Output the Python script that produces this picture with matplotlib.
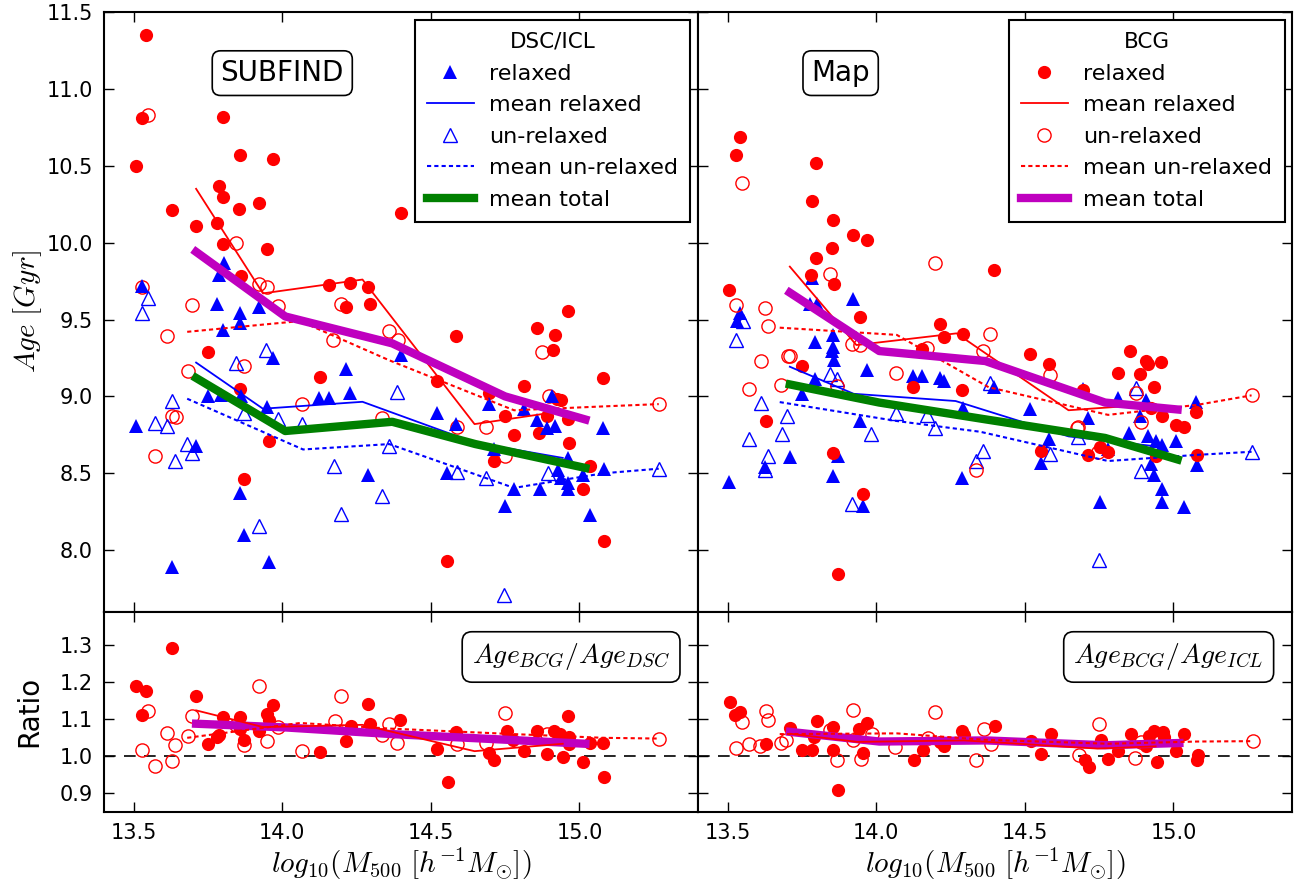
import numpy as np
import matplotlib
matplotlib.use("Agg")
import matplotlib.pyplot as plt

plt.rcParams["mathtext.fontset"] = "cm"
plt.rcParams["font.family"] = "DejaVu Sans"

# ---------------- top left: SUBFIND (BCG + DSC ages) ----------------
sub_bcg_rel = [(13.543, 11.35), (13.529, 10.81), (13.507, 10.50), (13.80, 10.82), (13.857, 10.57),
               (13.969, 10.545), (13.786, 10.37), (13.80, 10.30), (13.854, 10.22), (13.92, 10.255),
               (13.63, 10.21), (13.709, 10.11), (13.78, 10.13), (13.80, 9.99), (13.95, 9.96),
               (13.86, 9.78), (13.75, 9.29), (13.859, 9.05), (13.955, 8.71), (13.87, 8.46),
               (14.40, 10.19), (14.157, 9.725), (14.229, 9.74), (14.288, 9.71), (14.215, 9.58),
               (14.294, 9.60), (14.585, 9.39), (14.126, 9.125), (14.52, 9.10), (14.697, 9.02),
               (14.75, 8.87), (14.714, 8.58), (14.555, 7.93), (14.963, 9.555), (14.857, 9.445),
               (14.918, 9.40), (14.91, 9.305), (15.079, 9.12), (14.815, 9.065), (14.925, 8.98),
               (14.938, 8.975), (14.89, 8.87), (14.963, 8.855), (14.78, 8.75), (14.863, 8.765),
               (14.964, 8.695), (15.036, 8.55), (15.011, 8.40), (15.084, 8.06)]
sub_bcg_unrel = [(13.548, 10.83), (13.843, 9.995), (13.92, 9.73), (13.95, 9.71), (13.985, 9.59),
                 (13.529, 9.71), (13.697, 9.595), (13.613, 9.39), (13.87, 9.20), (13.683, 9.165),
                 (13.63, 8.87), (13.641, 8.865), (13.57, 8.61), (14.199, 9.60), (14.17, 9.37),
                 (14.36, 9.425), (14.39, 9.37), (14.067, 8.95), (14.587, 8.80), (14.684, 8.80),
                 (14.337, 8.86), (14.875, 9.29), (14.897, 9.00), (15.267, 8.95), (14.748, 8.61)]
sub_dsc_rel = [(13.529, 9.72), (13.803, 9.87), (13.787, 9.79), (13.78, 9.60), (13.857, 9.545),
               (13.92, 9.58), (13.857, 9.48), (13.80, 9.43), (13.969, 9.25), (13.75, 9.00),
               (13.795, 9.01), (13.862, 9.00), (13.95, 8.93), (13.507, 8.81), (13.71, 8.68),
               (13.857, 8.37), (13.87, 8.10), (13.63, 7.89), (13.955, 7.92), (14.40, 9.27),
               (14.215, 9.18), (14.123, 8.99), (14.157, 8.99), (14.229, 9.02), (14.52, 8.89),
               (14.583, 8.82), (14.288, 8.49), (14.555, 8.50), (14.75, 8.29), (14.697, 8.95),
               (14.908, 9.00), (14.815, 8.915), (14.857, 8.845), (14.89, 8.795), (14.918, 8.81),
               (15.079, 8.795), (14.963, 8.60), (15.084, 8.53), (14.928, 8.52), (14.937, 8.47),
               (14.963, 8.44), (14.963, 8.40), (15.011, 8.49), (14.78, 8.395), (14.866, 8.395),
               (15.036, 8.23), (14.714, 8.66)]
sub_dsc_unrel = [(13.548, 9.64), (13.529, 9.545), (13.946, 9.30), (13.843, 9.22), (13.63, 8.97),
                 (13.87, 8.89), (13.985, 8.85), (13.57, 8.83), (13.613, 8.81), (13.68, 8.69),
                 (13.697, 8.63), (13.638, 8.58), (13.92, 8.16), (14.386, 9.03), (14.067, 8.82),
                 (14.36, 8.68), (14.173, 8.55), (14.589, 8.51), (14.684, 8.47), (14.336, 8.35),
                 (14.196, 8.235), (14.745, 7.71), (14.894, 8.50), (15.267, 8.53)]

sub_bcg_rel_mean = [(13.71, 10.35), (13.935, 9.67), (14.27, 9.76), (14.647, 8.82), (14.944, 8.905)]
sub_bcg_unrel_mean = [(13.68, 9.42), (14.06, 9.49), (14.36, 9.235), (14.78, 8.91), (15.08, 8.935), (15.267, 8.95)]
sub_dsc_rel_mean = [(13.71, 9.22), (13.935, 8.92), (14.27, 8.965), (14.647, 8.70), (14.944, 8.60)]
sub_dsc_unrel_mean = [(13.68, 8.985), (14.07, 8.655), (14.36, 8.69), (14.78, 8.405), (15.08, 8.50), (15.267, 8.53)]
sub_dsc_tot_mean = [(13.71, 9.12), (14.01, 8.775), (14.37, 8.835), (14.65, 8.69), (15.02, 8.535)]
sub_bcg_tot_mean = [(13.71, 9.94), (14.01, 9.52), (14.37, 9.345), (14.75, 9.0), (15.02, 8.85)]

# ---------------- bottom left: ratio BCG / DSC ----------------
sub_ratio_rel = [(13.63, 1.291), (13.507, 1.189), (13.543, 1.176), (13.529, 1.111), (13.709, 1.163),
                 (13.751, 1.032), (13.78, 1.052), (13.787, 1.057), (13.80, 1.106), (13.857, 1.106),
                 (13.857, 1.075), (13.87, 1.045), (13.92, 1.068), (13.95, 1.113), (13.955, 1.097),
                 (13.969, 1.138), (14.126, 1.013), (14.215, 1.041), (14.232, 1.081), (14.288, 1.142),
                 (14.296, 1.088), (14.395, 1.097), (14.521, 1.019), (14.585, 1.066), (14.557, 0.932),
                 (14.697, 1.009), (14.714, 0.989), (14.756, 1.068), (14.778, 1.043), (14.815, 1.014),
                 (14.857, 1.068), (14.89, 1.007), (14.916, 1.068), (14.935, 1.061), (14.944, 0.998),
                 (14.963, 1.109), (14.966, 1.052), (14.964, 1.032), (15.011, 0.986), (15.036, 1.037),
                 (15.081, 1.036), (15.084, 0.944)]
sub_ratio_unrel = [(13.548, 1.122), (13.529, 1.016), (13.573, 0.974), (13.613, 1.063), (13.638, 1.03),
                   (13.63, 0.987), (13.697, 1.108), (13.683, 1.054), (13.845, 1.084), (13.87, 1.03),
                   (13.92, 1.189), (13.948, 1.041), (13.985, 1.079), (14.067, 1.014), (14.176, 1.095),
                   (14.199, 1.163), (14.336, 1.057), (14.36, 1.086), (14.387, 1.036), (14.589, 1.032),
                   (14.684, 1.036), (14.75, 1.117), (14.89, 1.061), (15.267, 1.048)]
sub_ratio_rel_mean = [(13.71, 1.124), (13.935, 1.079), (14.27, 1.085), (14.647, 1.014), (14.944, 1.034)]
sub_ratio_unrel_mean = [(13.68, 1.05), (14.06, 1.09), (14.36, 1.075), (14.78, 1.06), (15.08, 1.05), (15.267, 1.048)]
sub_ratio_tot_mean = [(13.71, 1.088), (14.01, 1.078), (14.37, 1.06), (14.75, 1.045), (15.02, 1.034)]

# ---------------- top right: Map (BCG + ICL ages) ----------------
map_bcg_rel = [(13.541, 10.685), (13.529, 10.572), (13.798, 10.52), (13.784, 10.272), (13.853, 10.149),
               (13.92, 10.05), (13.969, 10.02), (13.852, 9.964), (13.796, 9.90), (13.78, 9.788),
               (13.859, 9.73), (13.505, 9.69), (13.946, 9.517), (13.75, 9.197), (13.628, 8.84),
               (13.854, 8.633), (13.954, 8.366), (13.87, 7.844), (14.397, 9.82), (14.214, 9.469),
               (14.228, 9.388), (14.292, 9.408), (14.154, 9.306), (14.518, 9.274), (14.582, 9.208),
               (14.124, 9.063), (14.287, 9.041), (14.554, 8.648), (14.854, 9.295), (14.907, 9.23),
               (14.916, 9.213), (14.959, 9.223), (14.813, 9.154), (14.888, 9.147), (14.935, 9.06),
               (14.697, 9.039), (15.076, 8.898), (14.925, 8.922), (14.963, 8.872), (15.008, 8.813),
               (15.034, 8.80), (14.754, 8.672), (14.779, 8.639), (14.712, 8.616), (14.942, 8.611),
               (15.081, 8.618)]
map_bcg_unrel = [(13.549, 10.39), (13.843, 9.795), (13.529, 9.595), (13.627, 9.573), (13.635, 9.458),
                 (13.918, 9.339), (13.946, 9.334), (13.612, 9.23), (13.702, 9.262), (13.711, 9.262),
                 (13.868, 9.067), (13.571, 9.046), (13.68, 9.074), (14.197, 9.867), (14.384, 9.408),
                 (14.171, 9.313), (14.359, 9.295), (14.586, 9.139), (14.065, 9.154), (14.334, 8.524),
                 (14.675, 8.795), (14.873, 9.023), (14.891, 8.833), (14.68, 8.80), (14.746, 8.639),
                 (15.263, 9.007)]
map_icl_rel = [(13.784, 9.773), (13.778, 9.60), (13.80, 9.60), (13.92, 9.632), (13.543, 9.545),
               (13.53, 9.49), (13.795, 9.356), (13.854, 9.40), (13.853, 9.32), (13.795, 9.11),
               (13.851, 9.295), (13.857, 9.24), (13.969, 9.17), (13.75, 9.013), (13.946, 8.84),
               (13.709, 8.605), (13.87, 8.611), (13.627, 8.54), (13.854, 8.48), (13.505, 8.444),
               (13.954, 8.29), (14.123, 9.132), (14.154, 9.132), (14.213, 9.12), (14.228, 9.10),
               (14.397, 9.063), (14.518, 8.915), (14.292, 8.926), (14.582, 8.72), (14.554, 8.567),
               (14.287, 8.47), (14.697, 9.05), (14.813, 8.99), (14.907, 8.974), (15.076, 8.965),
               (14.888, 8.872), (14.712, 8.86), (14.852, 8.763), (14.913, 8.741), (14.94, 8.713),
               (14.96, 8.683), (15.008, 8.709), (14.779, 8.66), (15.081, 8.552), (14.925, 8.561),
               (14.936, 8.49), (14.96, 8.40), (14.963, 8.311), (15.034, 8.281), (14.754, 8.311)]
map_icl_unrel = [(13.552, 9.49), (13.529, 9.37), (13.843, 9.147), (13.868, 9.11), (13.612, 8.958),
                 (13.698, 8.87), (13.982, 8.755), (13.683, 8.755), (13.571, 8.726), (13.636, 8.611),
                 (13.627, 8.52), (13.918, 8.30), (14.384, 9.089), (14.065, 8.893), (14.171, 8.878),
                 (14.197, 8.795), (14.586, 8.626), (14.359, 8.648), (14.334, 8.578), (14.873, 9.056),
                 (14.68, 8.735), (14.891, 8.518), (14.748, 7.938), (15.263, 8.639)]

map_bcg_rel_mean = [(13.709, 9.844), (13.933, 9.334), (14.27, 9.41), (14.647, 8.91), (14.94, 8.95)]
map_bcg_unrel_mean = [(13.675, 9.447), (14.069, 9.40), (14.378, 9.06), (14.78, 8.88), (15.08, 8.945), (15.263, 9.007)]
map_icl_rel_mean = [(13.709, 9.193), (13.924, 9.017), (14.267, 8.97), (14.647, 8.74), (14.938, 8.676)]
map_icl_unrel_mean = [(13.675, 8.963), (14.069, 8.84), (14.35, 8.77), (14.78, 8.58), (15.08, 8.62), (15.263, 8.64)]
map_icl_tot_mean = [(13.709, 9.078), (14.01, 8.96), (14.37, 8.85), (14.77, 8.73), (15.014, 8.59)]
map_bcg_tot_mean = [(13.709, 9.675), (14.01, 9.295), (14.367, 9.23), (14.77, 8.96), (15.014, 8.915)]

# ---------------- bottom right: ratio BCG / ICL ----------------
map_ratio_rel = [(13.506, 1.147), (13.526, 1.111), (13.542, 1.12), (13.628, 1.032), (13.709, 1.077),
                 (13.75, 1.018), (13.782, 1.018), (13.80, 1.095), (13.79, 1.052), (13.856, 1.079),
                 (13.856, 1.016), (13.872, 0.91), (13.942, 1.075), (13.97, 1.091), (13.955, 1.009),
                 (14.126, 0.991), (14.158, 1.016), (14.214, 1.039), (14.228, 1.028), (14.288, 1.068),
                 (14.295, 1.057), (14.40, 1.082), (14.522, 1.041), (14.555, 1.007), (14.587, 1.061),
                 (14.703, 0.991), (14.715, 0.971), (14.756, 1.045), (14.779, 0.994), (14.813, 1.014),
                 (14.856, 1.059), (14.917, 1.054), (14.936, 1.068), (14.964, 1.066), (14.968, 1.052),
                 (14.908, 1.027), (14.946, 0.986), (15.01, 1.014), (15.036, 1.061), (15.083, 1.005),
                 (15.079, 0.991)]
map_ratio_unrel = [(13.549, 1.093), (13.528, 1.023), (13.571, 1.034), (13.628, 1.122), (13.635, 1.099),
                   (13.609, 1.028), (13.679, 1.037), (13.696, 1.043), (13.844, 1.072), (13.869, 0.991),
                   (13.92, 1.124), (13.985, 1.061), (13.949, 0.994), (13.92, 1.043), (14.064, 1.025),
                   (14.173, 1.05), (14.196, 1.12), (14.337, 0.991), (14.362, 1.075), (14.387, 1.032),
                   (14.683, 1.005), (14.75, 1.088), (14.869, 0.996), (14.891, 1.039), (15.267, 1.041)]
map_ratio_rel_mean = [(13.71, 1.061), (13.936, 1.039), (14.295, 1.043), (14.744, 1.021), (14.94, 1.027)]
map_ratio_unrel_mean = [(13.675, 1.06), (14.069, 1.062), (14.36, 1.045), (14.78, 1.034), (15.08, 1.04), (15.267, 1.041)]
map_ratio_tot_mean = [(13.71, 1.066), (14.01, 1.04), (14.37, 1.043), (14.77, 1.03), (15.02, 1.036)]

RED = "#ff0000"
BLUE = "#0000ff"
GREEN = "#008000"
MAGENTA = "#bf00bf"
MS = 9.5
DOT = (2.0, 1.5)


def xy(pts):
    a = np.array(pts)
    return a[:, 0], a[:, 1]


def markers(ax, pts, color, marker, filled, label=None):
    x, y = xy(pts)
    ax.plot(x, y, ls="none", marker=marker, ms=MS if marker == "o" else MS + 1,
            mfc=color if filled else "none", mec=color, mew=0 if filled else 1.0,
            label=label)


def mean_line(ax, pts, color, lw=1.3, dotted=False, label=None):
    x, y = xy(pts)
    if dotted:
        ax.plot(x, y, color=color, lw=lw + 0.2, dashes=DOT, label=label)
    else:
        ax.plot(x, y, color=color, lw=lw, label=label)


def style_axis(ax, ylim, yticks, show_x, show_y):
    ax.set_xlim(13.4, 15.4)
    ax.set_ylim(*ylim)
    ax.set_xticks([13.5, 14.0, 14.5, 15.0])
    ax.set_yticks(yticks)
    ax.tick_params(direction="in", top=True, right=True, length=7, width=1,
                   labelsize=15, pad=8)
    ax.tick_params(axis="x", labelbottom=show_x)
    ax.tick_params(axis="y", labelleft=show_y)
    for s in ax.spines.values():
        s.set_linewidth(1.5)


def top_panel(ax, bcg_rel, bcg_unrel, st_rel, st_unrel, means, star_first):
    (bcg_rm, bcg_um, st_rm, st_um, st_tm, bcg_tm) = means
    if star_first:
        # left panel: legend describes the DSC/ICL component
        markers(ax, bcg_rel, RED, "o", True)
        markers(ax, bcg_unrel, RED, "o", False)
        markers(ax, st_rel, BLUE, "^", True, "relaxed")
        markers(ax, st_unrel, BLUE, "^", False, "un-relaxed")
        mean_line(ax, bcg_rm, RED)
        mean_line(ax, bcg_um, RED, dotted=True)
        mean_line(ax, st_rm, BLUE, label="mean relaxed")
        mean_line(ax, st_um, BLUE, dotted=True, label="mean un-relaxed")
        mean_line(ax, bcg_tm, MAGENTA, lw=6)
        mean_line(ax, st_tm, GREEN, lw=6, label="mean total")
    else:
        markers(ax, st_rel, BLUE, "^", True)
        markers(ax, st_unrel, BLUE, "^", False)
        markers(ax, bcg_rel, RED, "o", True, "relaxed")
        markers(ax, bcg_unrel, RED, "o", False, "un-relaxed")
        mean_line(ax, st_rm, BLUE)
        mean_line(ax, st_um, BLUE, dotted=True)
        mean_line(ax, bcg_rm, RED, label="mean relaxed")
        mean_line(ax, bcg_um, RED, dotted=True, label="mean un-relaxed")
        mean_line(ax, st_tm, GREEN, lw=6)
        mean_line(ax, bcg_tm, MAGENTA, lw=6, label="mean total")


def ratio_panel(ax, rel, unrel, rm, um, tm):
    ax.axhline(1.0, color="k", lw=1.2, dashes=(7, 5))
    markers(ax, rel, RED, "o", True)
    markers(ax, unrel, RED, "o", False)
    mean_line(ax, tm, MAGENTA, lw=6)
    mean_line(ax, rm, RED)
    mean_line(ax, um, RED, dotted=True)


fig = plt.figure(figsize=(12.95, 8.93), dpi=100)
x0, w = 0.0803, 0.4589
x1 = 0.539
ax_tl = fig.add_axes([x0, 0.315, w, 0.6716])
ax_tr = fig.add_axes([x1, 0.315, w, 0.6716])
ax_bl = fig.add_axes([x0, 0.0907, w, 0.2243])
ax_br = fig.add_axes([x1, 0.0907, w, 0.2243])

top_panel(ax_tl, sub_bcg_rel, sub_bcg_unrel, sub_dsc_rel, sub_dsc_unrel,
          (sub_bcg_rel_mean, sub_bcg_unrel_mean, sub_dsc_rel_mean, sub_dsc_unrel_mean,
           sub_dsc_tot_mean, sub_bcg_tot_mean), True)
top_panel(ax_tr, map_bcg_rel, map_bcg_unrel, map_icl_rel, map_icl_unrel,
          (map_bcg_rel_mean, map_bcg_unrel_mean, map_icl_rel_mean, map_icl_unrel_mean,
           map_icl_tot_mean, map_bcg_tot_mean), False)
ratio_panel(ax_bl, sub_ratio_rel, sub_ratio_unrel, sub_ratio_rel_mean,
            sub_ratio_unrel_mean, sub_ratio_tot_mean)
ratio_panel(ax_br, map_ratio_rel, map_ratio_unrel, map_ratio_rel_mean,
            map_ratio_unrel_mean, map_ratio_tot_mean)

top_ticks = [8.0, 8.5, 9.0, 9.5, 10.0, 10.5, 11.0, 11.5]
ratio_ticks = [0.9, 1.0, 1.1, 1.2, 1.3]
style_axis(ax_tl, (7.6, 11.5), top_ticks, False, True)
style_axis(ax_tr, (7.6, 11.5), top_ticks, False, False)
style_axis(ax_bl, (0.85, 1.39), ratio_ticks, True, True)
style_axis(ax_br, (0.85, 1.39), ratio_ticks, True, False)

order = ["relaxed", "mean relaxed", "un-relaxed", "mean un-relaxed", "mean total"]
for ax, title in [(ax_tl, "DSC/ICL"), (ax_tr, "BCG")]:
    h, l = ax.get_legend_handles_labels()
    hd = dict(zip(l, h))
    leg = ax.legend([hd[k] for k in order], order, loc="upper right", title=title,
                    numpoints=1, fontsize=16, title_fontsize=15.5, fancybox=False,
                    edgecolor="k", handlelength=2.1, borderaxespad=0.35,
                    labelspacing=0.52, borderpad=0.55, handletextpad=0.7)
    leg.get_frame().set_linewidth(1.5)
    leg.get_frame().set_alpha(1)

box = dict(boxstyle="round,pad=0.3", fc="w", ec="k", lw=1.2)
ax_tl.text(0.30, 0.898, "SUBFIND", transform=ax_tl.transAxes, fontsize=20,
           ha="center", va="center", bbox=box)
ax_tr.text(0.24, 0.898, "Map", transform=ax_tr.transAxes, fontsize=20,
           ha="center", va="center", bbox=box)
ax_bl.text(0.786, 0.774, r"$Age_{BCG}/Age_{DSC}$", transform=ax_bl.transAxes,
           fontsize=20, ha="center", va="center", bbox=dict(boxstyle="round,pad=0.35", fc="w", ec="k", lw=1.2))
ax_br.text(0.792, 0.774, r"$Age_{BCG}/Age_{ICL}$", transform=ax_br.transAxes,
           fontsize=20, ha="center", va="center", bbox=dict(boxstyle="round,pad=0.35", fc="w", ec="k", lw=1.2))

ax_tl.set_ylabel(r"$Age\ [Gyr]$", fontsize=21, labelpad=2)
ax_bl.set_ylabel("Ratio", fontsize=20, labelpad=12)
xlab = r"$log_{10}(M_{500}\ [h^{-1}M_{\odot}])$"
ax_bl.set_xlabel(xlab, fontsize=21, labelpad=2)
ax_br.set_xlabel(xlab, fontsize=21, labelpad=2)

fig.savefig("out.png", dpi=100)
